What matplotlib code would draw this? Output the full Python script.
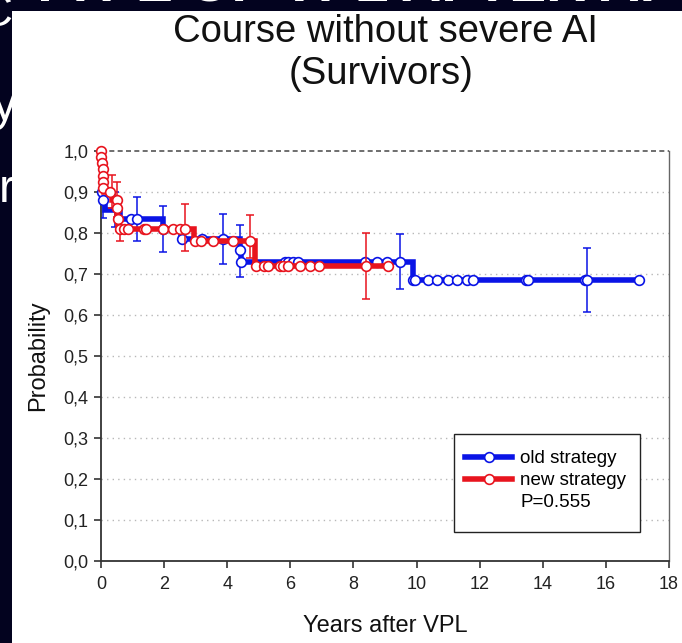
import matplotlib
matplotlib.use("Agg")
import matplotlib.pyplot as plt
from matplotlib.lines import Line2D
from matplotlib.patches import Rectangle

plt.rcParams['font.family'] = ['Liberation Sans', 'DejaVu Sans']

# ---------------- data ----------------
x_ticks = [0, 2, 4, 6, 8, 10, 12, 14, 16, 18]
y_ticks = [0.0, 0.1, 0.2, 0.3, 0.4, 0.5, 0.6, 0.7, 0.8, 0.9, 1.0]
y_tick_labels = ["0,0", "0,1", "0,2", "0,3", "0,4", "0,5", "0,6", "0,7", "0,8", "0,9", "1,0"]

# old strategy (blue) Kaplan-Meier steps
old_step_t = [0, 0.05, 0.12, 0.6, 1.97, 2.55, 4.4, 4.45, 9.9, 17.05]
old_step_s = [0.90, 0.88, 0.857, 0.835, 0.81, 0.785, 0.758, 0.73, 0.685, 0.685]
old_cens_t = [0.02, 0.05, 0.96, 1.15, 1.97, 2.57, 3.19, 3.87, 4.4, 4.45,
              5.83, 5.92, 6.09, 6.25, 8.37, 8.74, 9.06, 9.47,
              9.89, 9.95, 10.36, 10.65, 11.0, 11.28, 11.6, 11.8, 13.47, 13.53, 15.34, 15.4, 17.05]
old_cens_s = [0.90, 0.88, 0.835, 0.835, 0.81, 0.785, 0.785, 0.785, 0.758, 0.73,
              0.73, 0.73, 0.73, 0.73, 0.73, 0.73, 0.73, 0.73,
              0.685, 0.685, 0.685, 0.685, 0.685, 0.685, 0.685, 0.685, 0.685, 0.685, 0.685, 0.685, 0.685]
old_err_t = [0.05, 0.45, 1.15, 1.97, 3.87, 4.4, 9.47, 15.4]
old_err_s = [0.88, 0.857, 0.835, 0.81, 0.785, 0.758, 0.73, 0.685]
old_err_lo = [0.836, 0.815, 0.78, 0.754, 0.724, 0.693, 0.663, 0.607]
old_err_hi = [0.92, 0.90, 0.888, 0.866, 0.846, 0.82, 0.797, 0.763]

# new strategy (red)
new_step_t = [0, 0.01, 0.03, 0.05, 0.06, 0.07, 0.08, 0.34, 0.5, 0.52, 0.55, 2.95, 4.88, 9.09]
new_step_s = [1.0, 0.985, 0.97, 0.955, 0.94, 0.925, 0.90, 0.88, 0.86, 0.835, 0.81, 0.78, 0.72, 0.72]
new_cens_t = [0.0, 0.01, 0.03, 0.05, 0.06, 0.07, 0.07, 0.3, 0.5, 0.52, 0.55,
              0.6, 0.73, 0.86, 1.36, 1.43, 1.96, 2.28, 2.5, 2.66,
              2.98, 3.17, 3.55, 4.18, 4.72,
              4.9, 5.15, 5.3, 5.67, 5.76, 5.92, 6.3, 6.62, 6.9, 8.4, 9.09]
new_cens_s = [1.0, 0.985, 0.97, 0.955, 0.94, 0.925, 0.91, 0.90, 0.88, 0.86, 0.835,
              0.81, 0.81, 0.81, 0.81, 0.81, 0.81, 0.81, 0.81, 0.81,
              0.78, 0.78, 0.78, 0.78, 0.78,
              0.72, 0.72, 0.72, 0.72, 0.72, 0.72, 0.72, 0.72, 0.72, 0.72, 0.72]
new_err_t = [0.34, 0.5, 0.6, 2.66, 4.72, 8.4]
new_err_s = [0.90, 0.88, 0.81, 0.81, 0.78, 0.72]
new_err_lo = [0.86, 0.84, 0.78, 0.756, 0.74, 0.64]
new_err_hi = [0.941, 0.924, 0.83, 0.87, 0.845, 0.80]

legend_labels = ["old strategy", "new strategy", "P=0.555"]

BLUE = '#0a14e6'
RED = '#e8141e'
NAVY = '#03031f'

# ---------------- figure ----------------
fig = plt.figure(figsize=(6.82, 6.43), dpi=100, facecolor=NAVY)
W, H = 682, 643

# slide fragments behind the white panel
fig.text(13 / W, 1 - 14 / H, "C", color='white', fontsize=34, ha='right', va='center', zorder=0.5)
fig.text(17 / W, 1 - 108 / H, "y", color='white', fontsize=34, ha='right', va='center', zorder=0.5)
fig.text(14 / W, 1 - 190 / H, "r", color='white', fontsize=34, ha='right', va='center', zorder=0.5)
fig.text(0.5, 1 + 12 / H, "TYPE OF VPL AFTER AI", color='white', fontsize=40, fontweight='bold',
         ha='center', va='center', zorder=0.5)
fig.patches.append(Rectangle((12 / W, 0), 1 - 12 / W, 1 - 11 / H, transform=fig.transFigure,
                             facecolor='white', edgecolor='none', zorder=1))

fig.text(385 / W, 1 - 32 / H, "Course without severe AI", fontsize=27.5, ha='center', va='center',
         color='#111111', zorder=3)
fig.text(381 / W, 1 - 74 / H, "(Survivors)", fontsize=27.5, ha='center', va='center',
         color='#111111', zorder=3)

ax = fig.add_axes([101 / W, 1 - 561 / H, 568 / W, 410 / H])
ax.set_zorder(2)
ax.set_facecolor('white')
ax.set_xlim(0, 18)
ax.set_ylim(0, 1.0)

# grid
for yv in y_ticks[1:-1]:
    ax.axhline(yv, color='#b8b8b8', lw=1.0, ls=(0, (1, 3)), zorder=1)
ax.axhline(1.0, color='#555555', lw=1.2, ls=(0, (3, 2)), zorder=1, clip_on=False)

# curves
ax.step(old_step_t, old_step_s, where='post', color=BLUE, lw=4.0, zorder=3, solid_joinstyle='miter')
ax.errorbar(old_err_t, old_err_s,
            yerr=[[s - l for s, l in zip(old_err_s, old_err_lo)], [h - s for s, h in zip(old_err_s, old_err_hi)]],
            fmt='none', ecolor=BLUE, elinewidth=1.1, capsize=3, capthick=1.1, zorder=4)
ax.plot(old_cens_t, old_cens_s, 'o', ms=7, mfc='white', mec=BLUE, mew=1.2, zorder=5, clip_on=False)

ax.step(new_step_t, new_step_s, where='post', color=RED, lw=4.0, zorder=6, solid_joinstyle='miter')
ax.errorbar(new_err_t, new_err_s,
            yerr=[[s - l for s, l in zip(new_err_s, new_err_lo)], [h - s for s, h in zip(new_err_s, new_err_hi)]],
            fmt='none', ecolor=RED, elinewidth=1.1, capsize=3, capthick=1.1, zorder=7)
ax.plot(new_cens_t, new_cens_s, 'o', ms=7, mfc='white', mec=RED, mew=1.2, zorder=8, clip_on=False)

# axes styling
for side in ['left', 'bottom']:
    ax.spines[side].set_color('#333333')
    ax.spines[side].set_linewidth(1.3)
ax.spines['right'].set_color('#666666')
ax.spines['right'].set_linewidth(1.0)
ax.spines['top'].set_visible(False)
ax.set_xticks(x_ticks)
ax.set_xticklabels([str(v) for v in x_ticks])
ax.set_yticks(y_ticks)
ax.set_yticklabels(y_tick_labels)
ax.tick_params(axis='both', direction='out', length=5, width=1.2, color='#333333',
               labelsize=13, labelcolor='#222222')
ax.tick_params(axis='x', pad=6)
ax.tick_params(axis='y', pad=4)
ax.set_xlabel("Years after VPL", fontsize=17, color='#111111', labelpad=16)
ax.set_ylabel("Probability", fontsize=17, color='#111111', labelpad=10)

# legend: frame drawn separately, entries via legend
ax.add_patch(Rectangle((0.621, 0.071), 0.328, 0.239, transform=ax.transAxes,
                       facecolor='white', edgecolor='#222222', lw=1.0, zorder=9))
handles = [
    Line2D([], [], color=BLUE, lw=4.0, marker='o', ms=7, mfc='white', mec=BLUE, mew=1.2),
    Line2D([], [], color=RED, lw=4.0, marker='o', ms=7, mfc='white', mec=RED, mew=1.2),
    Line2D([], [], color='none'),
]
leg = ax.legend(handles, legend_labels, loc='upper left', bbox_to_anchor=(0.641, 0.27),
                fontsize=13.5, frameon=False, borderpad=0, labelspacing=0.26, handlelength=2.5,
                handletextpad=0.45, borderaxespad=0, numpoints=1)
leg.set_zorder(10)

fig.savefig("out.png", dpi=100, facecolor=NAVY)
